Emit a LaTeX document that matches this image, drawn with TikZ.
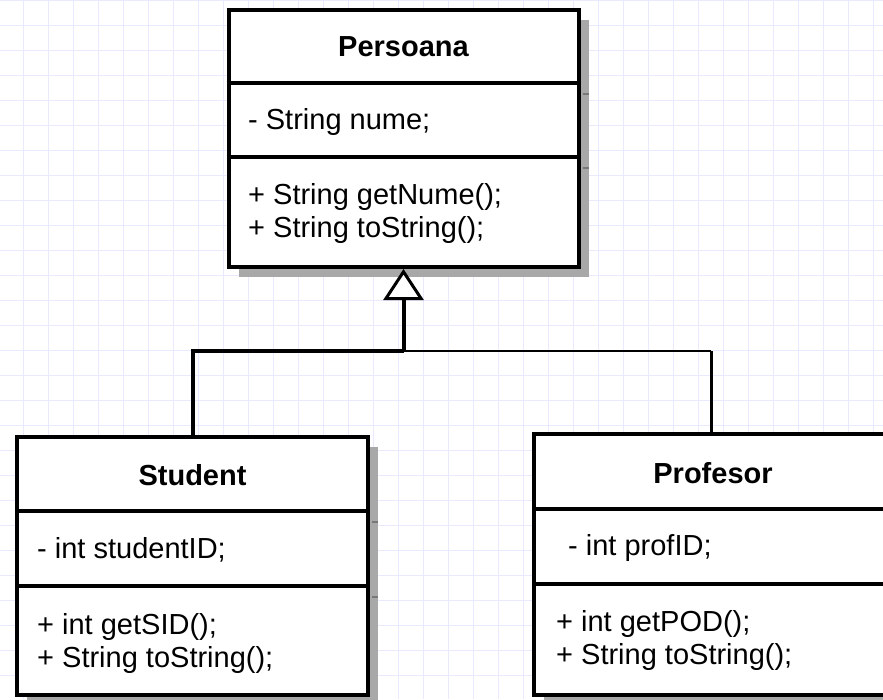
\documentclass[tikz,border=0pt]{standalone}
\usepackage{fontspec}
\setmainfont{Liberation Sans}
\usetikzlibrary{arrows.meta,shadows}
\definecolor{gridc}{RGB}{234,234,255}
\definecolor{shadowc}{RGB}{168,168,168}
\definecolor{tickc}{RGB}{120,120,120}
\begin{document}
\begin{tikzpicture}[x=1pt,y=-1pt,
  gridline/.style={draw=gridc,line width=1.2pt},
  classbox/.style={draw=black,line width=4pt,fill=white,inner sep=0pt,
    drop shadow={shadow xshift=10pt,shadow yshift=-10pt,fill=shadowc,opacity=1}},
  sepline/.style={draw=black,line width=4pt},
  shadowtick/.style={draw=tickc,line width=1.5pt},
  classtitle/.style={font=\fontsize{29}{33}\selectfont\bfseries,inner sep=0pt},
  member/.style={font=\fontsize{29}{33}\selectfont,inner sep=0pt,anchor=west,align=left},
  conn/.style={draw=black,line width=4pt},
  thinconn/.style={draw=black,line width=2pt},
  midconn/.style={draw=black,line width=3pt}]
\useasboundingbox (0,0) rectangle (883,699);
\clip (0,0) rectangle (883,699);
\fill[white] (0,0) rectangle (883,699);
% grid
\foreach \i in {0,...,35} \draw[gridline] ({23.3+25*\i},0) -- ({23.3+25*\i},699);
\foreach \j in {0,...,28} \draw[gridline] (0,{0.5+25*\j}) -- (883,{0.5+25*\j});

% class boxes
\node[classbox,minimum width=350pt,minimum height=257pt] (persoana) at (403.5,138.5) {};
\node[classbox,minimum width=351pt,minimum height=258pt] (student) at (192.5,566) {};
\node[classbox,minimum width=354pt,minimum height=261pt] (profesor) at (711,564.5) {};

% separator shadow ticks
\draw[shadowtick] ([xshift=2pt]persoana.east |- 0,94) -- ([xshift=8pt]persoana.east |- 0,94);
\draw[shadowtick] ([xshift=2pt]persoana.east |- 0,168) -- ([xshift=8pt]persoana.east |- 0,168);
\draw[shadowtick] ([xshift=2pt]student.east |- 0,522) -- ([xshift=8pt]student.east |- 0,522);
\draw[shadowtick] ([xshift=2pt]student.east |- 0,597) -- ([xshift=8pt]student.east |- 0,597);

% separators
\draw[sepline] (persoana.west |- 0,83) -- (persoana.east |- 0,83);
\draw[sepline] (persoana.west |- 0,157) -- (persoana.east |- 0,157);
\draw[sepline] (student.west |- 0,511) -- (student.east |- 0,511);
\draw[sepline] (student.west |- 0,586) -- (student.east |- 0,586);
\draw[sepline] (profesor.west |- 0,509) -- (profesor.east |- 0,509);
\draw[sepline] (profesor.west |- 0,584) -- (profesor.east |- 0,584);

% texts
\node[classtitle] (ptitle) at (403.5,47) {Persoana};
\node[member] (pattr) at (248,122) {- String nume;};
\node[member] (pmeth) at (248,213.5) {+ String getNume();\\+ String toString();};

\node[classtitle] (stitle) at (192.5,475) {Student};
\node[member] (sattr) at (37,550) {- int studentID;};
\node[member] (smeth) at (37,643.5) {+ int getSID();\\+ String toString();};

\node[classtitle] (ftitle) at (713,473) {Profesor};
\node[member] (fattr) at (568,548) {- int profID;};
\node[member] (fmeth) at (556,640) {+ int getPOD();\\+ String toString();};

% generalization connectors
\coordinate (junction) at (persoana.south |- 0,351);
\coordinate (rturn) at (profesor.north |- junction);
\draw[thinconn] (junction) -- (rturn);
\draw[midconn] (rturn) -- (profesor.north);
\draw[conn] (junction) -| (student.north);
\draw[conn,-{Triangle[fill=white,length=31pt,width=40pt,line width=3pt]}] (junction) -- (persoana.south);
\end{tikzpicture}
\end{document}
